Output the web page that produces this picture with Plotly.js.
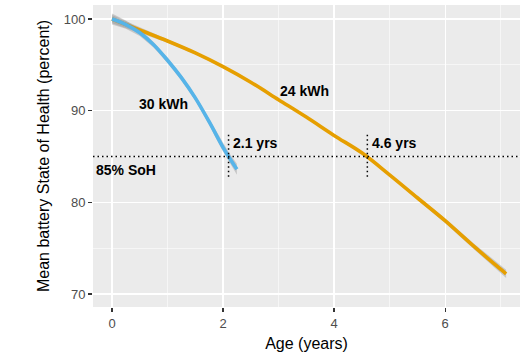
<!DOCTYPE html>
<html>
<head>
<meta charset="utf-8">
<script src="https://cdn.plot.ly/plotly-3.0.1.min.js"></script>
<style>html,body{margin:0;padding:0;background:#fff;}#chart{width:529px;height:357px;}</style>
</head>
<body>
<div id="chart"></div>
<script>
// 24 kWh pack
const ageA = [0, 0.5, 1, 1.5, 2, 2.5, 3, 3.5, 4, 4.5, 5, 5.5, 6, 6.5, 7, 7.1];
const sohA = [100, 98.8, 97.6, 96.3, 94.8, 93.1, 91.2, 89.3, 87.3, 85.4, 83.0, 80.5, 78.0, 75.3, 72.7, 72.2];
const seA  = [0.45, 0.3, 0.2, 0.15, 0.12, 0.1, 0.1, 0.1, 0.1, 0.12, 0.15, 0.2, 0.25, 0.3, 0.4, 0.45];
// 30 kWh pack
const ageB = [0, 0.25, 0.5, 0.75, 1, 1.25, 1.5, 1.75, 2, 2.1, 2.25];
const sohB = [100, 99.4, 98.5, 97.2, 95.5, 93.6, 91.4, 88.8, 86.0, 85.0, 83.6];
const seB  = [0.6, 0.45, 0.35, 0.3, 0.3, 0.3, 0.3, 0.35, 0.45, 0.5, 0.6];
// thresholds
const sohThreshold = 85;
const crossAges = [2.1, 4.6];
const crossLabels = ["2.1 yrs", "4.6 yrs"];

function ribbon(x, y, se, name) {
  const up = y.map((v, i) => v + se[i]);
  const lo = y.map((v, i) => v - se[i]);
  return [
    {x: x, y: lo, mode: 'lines', line: {width: 0}, hoverinfo: 'skip', showlegend: false, name: name + ' lo'},
    {x: x, y: up, mode: 'lines', line: {width: 0}, fill: 'tonexty', fillcolor: 'rgba(140,140,140,0.38)', hoverinfo: 'skip', showlegend: false, name: name + ' hi'}
  ];
}

const traces = [
  ...ribbon(ageA, sohA, seA, '24'),
  {x: ageA, y: sohA, mode: 'lines', line: {color: '#E69F00', width: 3.6, shape: 'spline'}, showlegend: false, name: '24 kWh'},
  ...ribbon(ageB, sohB, seB, '30'),
  {x: ageB, y: sohB, mode: 'lines', line: {color: '#56B4E9', width: 3.6, shape: 'spline'}, showlegend: false, name: '30 kWh'}
];

const dotLine = {color: '#000', width: 1.5, dash: '1.5px,3px'};
const shapes = [
  {type: 'line', xref: 'paper', x0: 0, x1: 1, yref: 'y', y0: sohThreshold, y1: sohThreshold, line: dotLine}
];
crossAges.forEach(a => shapes.push({type: 'line', xref: 'x', x0: a, x1: a, yref: 'y', y0: 82.8, y1: 87.7, line: dotLine}));

const bold = {family: 'Liberation Sans, Arial, sans-serif', size: 14, color: '#000', weight: 'bold'};
const annotations = [
  {x: 0.92, y: 90.7, text: '<b>30 kWh</b>', showarrow: false, font: bold, xanchor: 'center', yanchor: 'middle'},
  {x: 3.47, y: 92.2, text: '<b>24 kWh</b>', showarrow: false, font: bold, xanchor: 'center', yanchor: 'middle'},
  {x: -0.32, y: 83.5, text: '<b>85% SoH</b>', showarrow: false, font: bold, xanchor: 'left', yanchor: 'middle'},
];
crossAges.forEach((a, i) => annotations.push({x: a + 0.05, y: 86.5, text: '<b>' + crossLabels[i] + '</b>',
  showarrow: false, font: bold, xanchor: 'left', yanchor: 'middle'}));

const layout = {
  width: 529, height: 357,
  margin: {l: 93, r: 9, t: 5, b: 50},
  paper_bgcolor: '#fff', plot_bgcolor: '#EBEBEB',
  font: {family: 'Liberation Sans, Arial, sans-serif', color: '#000'},
  xaxis: {
    range: [-0.342, 7.35], tickvals: [0, 2, 4, 6], ticktext: ['0', '2', '4', '6'],
    showgrid: true, gridcolor: '#fff', gridwidth: 1.1, zeroline: false, showline: false,
    ticks: 'outside', ticklen: 4, tickwidth: 1.1, tickcolor: '#333',
    tickfont: {size: 13, color: '#4D4D4D'},
    minor: {tickvals: [1, 3, 5, 7], showgrid: true, gridcolor: '#fff', gridwidth: 0.55, ticks: ''},
    title: {text: 'Age (years)', font: {size: 16, color: '#000'}, standoff: 8}
  },
  yaxis: {
    range: [68.58, 101.53], tickvals: [70, 80, 90, 100], ticktext: ['70', '80', '90', '100'],
    showgrid: true, gridcolor: '#fff', gridwidth: 1.1, zeroline: false, showline: false,
    ticks: 'outside', ticklen: 4, tickwidth: 1.1, tickcolor: '#333',
    tickfont: {size: 13, color: '#4D4D4D'},
    minor: {tickvals: [75, 85, 95], showgrid: true, gridcolor: '#fff', gridwidth: 0.55, ticks: ''},
    title: {text: 'Mean battery State of Health (percent)', font: {size: 16, color: '#000'}, standoff: 10}
  },
  shapes: shapes,
  annotations: annotations,
  showlegend: false
};

Plotly.newPlot('chart', traces, layout, {staticPlot: true, displayModeBar: false});
</script>
</body>
</html>
